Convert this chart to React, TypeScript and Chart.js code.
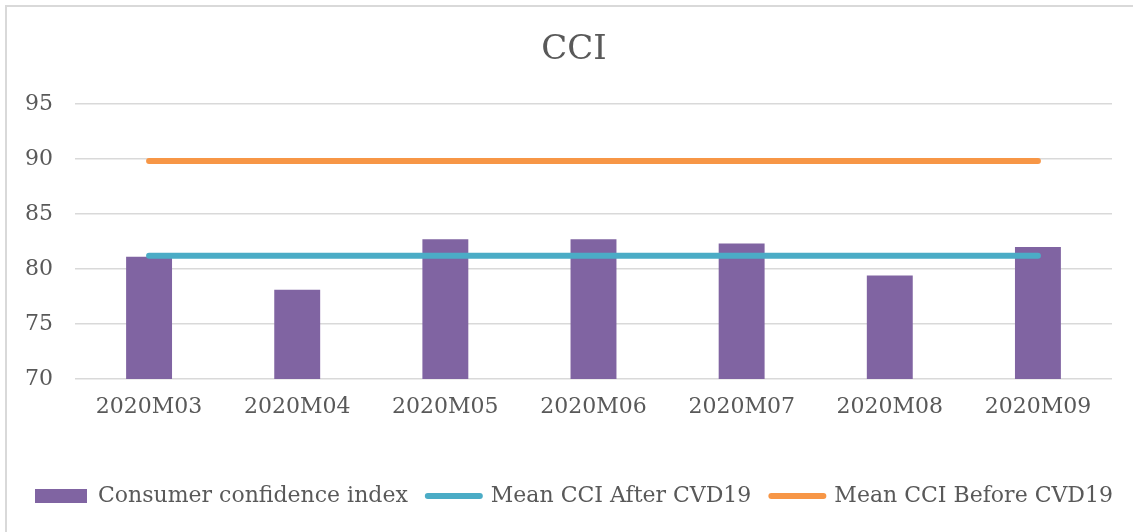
import React, { useEffect, useRef } from "react";
import { Chart, registerables } from "chart.js";

Chart.register(...registerables);

const categories = ["2020M03", "2020M04", "2020M05", "2020M06", "2020M07", "2020M08", "2020M09"];
const cciValues = [81.1, 78.1, 82.7, 82.7, 82.3, 79.4, 82.0];
const meanAfter = [81.2, 81.2, 81.2, 81.2, 81.2, 81.2, 81.2];
const meanBefore = [89.8, 89.8, 89.8, 89.8, 89.8, 89.8, 89.8];
const seriesNames = ["Consumer confidence index", "Mean CCI After CVD19", "Mean CCI Before CVD19"];
const yMin = 70;
const yMax = 95;
const yStep = 5;

const FONT = "'DejaVu Serif', 'Liberation Serif', serif";
const TEXT = "#595959";
const PURPLE = "#8064a2";
const BLUE = "#4bacc6";
const ORANGE = "#f79646";

export default function App() {
  const ref = useRef<HTMLCanvasElement | null>(null);

  useEffect(() => {
    document.body.style.margin = "0";
    const canvas = ref.current;
    if (!canvas) return;

    const box = document.createElement("canvas");
    box.width = 52;
    box.height = 14;
    const bctx = box.getContext("2d")!;
    bctx.fillStyle = PURPLE;
    bctx.fillRect(0, 0, 52, 14);

    const chart = new Chart(canvas, {
      type: "bar",
      data: {
        labels: categories,
        datasets: [
          {
            type: "bar",
            label: seriesNames[0],
            data: cciValues,
            backgroundColor: PURPLE,
            borderWidth: 0,
            barPercentage: 0.31,
            categoryPercentage: 1,
            order: 3,
          },
          {
            type: "line",
            label: seriesNames[1],
            data: meanAfter,
            borderColor: BLUE,
            backgroundColor: BLUE,
            borderWidth: 6,
            borderCapStyle: "round",
            pointRadius: 0,
            order: 2,
          },
          {
            type: "line",
            label: seriesNames[2],
            data: meanBefore,
            borderColor: ORANGE,
            backgroundColor: ORANGE,
            borderWidth: 6,
            borderCapStyle: "round",
            pointRadius: 0,
            order: 1,
          },
        ],
      } as any,
      options: {
        responsive: false,
        animation: false,
        layout: { padding: { left: 15, right: 0, top: 0, bottom: 15 } },
        plugins: {
          title: {
            display: true,
            text: "CCI",
            color: TEXT,
            font: { family: FONT, size: 34, weight: "normal" },
            padding: { top: 30, bottom: 33 },
          },
          tooltip: { enabled: false },
          legend: {
            position: "bottom",
            labels: {
              color: TEXT,
              font: { family: FONT, size: 22 },
              usePointStyle: true,
              pointStyleWidth: 52,
              boxHeight: 14,
              padding: 20,
              generateLabels: () => [
                {
                  text: seriesNames[0],
                  pointStyle: box as any,
                  fillStyle: PURPLE,
                  strokeStyle: PURPLE,
                  lineWidth: 0,
                  fontColor: TEXT,
                  datasetIndex: 0,
                  hidden: false,
                },
                {
                  text: seriesNames[1],
                  pointStyle: "line",
                  fillStyle: BLUE,
                  strokeStyle: BLUE,
                  lineWidth: 6,
                  lineCap: "round",
                  fontColor: TEXT,
                  datasetIndex: 1,
                  hidden: false,
                },
                {
                  text: seriesNames[2],
                  pointStyle: "line",
                  fillStyle: ORANGE,
                  strokeStyle: ORANGE,
                  lineWidth: 6,
                  lineCap: "round",
                  fontColor: TEXT,
                  datasetIndex: 2,
                  hidden: false,
                },
              ],
            },
          },
        },
        scales: {
          x: {
            grid: { display: false, drawTicks: false },
            border: { display: false },
            ticks: { color: TEXT, font: { family: FONT, size: 22 }, padding: 15, maxRotation: 0 },
            afterFit: (s: any) => {
              s.height = 86;
            },
          },
          y: {
            min: yMin,
            max: yMax,
            ticks: { stepSize: yStep, color: TEXT, font: { family: FONT, size: 22 }, padding: 22 },
            grid: { color: "#d9d9d9", lineWidth: 1.5, drawTicks: false },
            border: { display: false },
            afterFit: (s: any) => {
              s.width = 60;
            },
          },
          spacer: {
            type: "linear",
            position: "right",
            display: true,
            grid: { display: false, drawTicks: false },
            border: { display: false },
            ticks: { display: false },
            afterFit: (s: any) => {
              s.width = 21;
            },
          },
        },
      } as any,
    });
    return () => chart.destroy();
  }, []);

  return (
    <div style={{ position: "relative", width: 1133, height: 532, overflow: "hidden", background: "#fff" }}>
      <canvas ref={ref} width={1133} height={532} style={{ display: "block" }} />
      <div
        style={{
          position: "absolute",
          left: 5,
          top: 5,
          width: 1400,
          height: 800,
          border: "2px solid #d9d9d9",
          pointerEvents: "none",
        }}
      />
    </div>
  );
}
